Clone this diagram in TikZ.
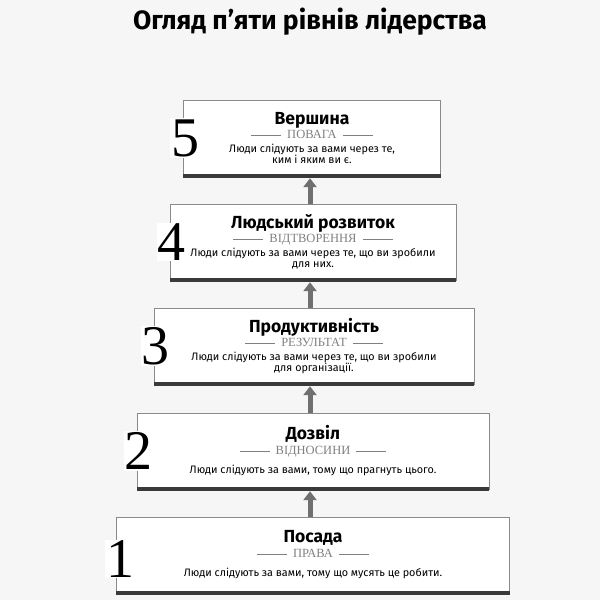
\documentclass[tikz,border=0pt]{standalone}
\usepackage{fontspec}
\setmainfont{Liberation Serif}
\setsansfont{Fira Sans}
\usetikzlibrary{arrows.meta, positioning}
\definecolor{bgpaper}{HTML}{F6F6F6}
\definecolor{edgegray}{HTML}{8A8A8A}
\definecolor{bargray}{HTML}{3A3A3A}
\definecolor{arrowgray}{HTML}{707070}
\newcommand{\subline}[1]{{\fontsize{12.5}{13}\selectfont\color{gray}\rule[3.5pt]{30pt}{0.5pt}\hspace{6pt}#1\hspace{6pt}\rule[3.5pt]{30pt}{0.5pt}}}
\newcommand{\headfont}{\sffamily\bfseries\fontsize{17.5}{18}\selectfont}
\newcommand{\bodyfont}{\sffamily\fontsize{10.8}{11}\selectfont}

\begin{document}
\begin{tikzpicture}[
    x=1pt, y=-1pt,
    level/.style={rectangle, draw=edgegray, fill=white, minimum height=76pt, align=center, inner sep=1pt},
    bar/.style={draw=bargray, line width=3.5pt},
    rank/.style={fill=white, font=\fontsize{56}{56}\selectfont, inner sep=1pt},
    uparrow/.style={draw=arrowgray, line width=5pt, -{Triangle[width=13pt,length=9pt]}}
]
\fill[bgpaper] (0,0) rectangle (600,600);
\useasboundingbox (0,0) rectangle (600,600);

\node[font=\sffamily\bfseries\fontsize{26.5}{28}\selectfont] (title) at (310,22) {Огляд п'яти рівнів лідерства};

\node[level, minimum width=257pt] (top) at (312,138) {{\headfont Вершина}\\[1pt]
  \subline{ПОВАГА}\\[2pt]
  {\bodyfont Люди слідують за вами через те,}\\[-1pt] {\bodyfont ким і яким ви є.}};
\node[level, minimum width=286pt] (growth) at (313,242) {{\headfont Людський розвиток}\\[1pt]
  \subline{ВІДТВОРЕННЯ}\\[2pt]
  {\bodyfont Люди слідують за вами через те, що ви зробили}\\[-1pt] {\bodyfont для них.}};
\node[level, minimum width=320pt] (result) at (314,346) {{\headfont Продуктивність}\\[1pt]
  \subline{РЕЗУЛЬТАТ}\\[2pt]
  {\bodyfont Люди слідують за вами через те, що ви зробили}\\[-1pt] {\bodyfont для організації.}};
\node[level, minimum width=352pt] (permit) at (313,451) {{\headfont Дозвіл}\\[3pt]
  \subline{ВІДНОСИНИ}\\[7pt]
  {\bodyfont Люди слідують за вами, тому що прагнуть цього.}};
\node[level, minimum width=393pt] (post) at (313,555) {{\headfont Посада}\\[3pt]
  \subline{ПРАВА}\\[7pt]
  {\bodyfont Люди слідують за вами, тому що мусять це робити.}};

% thick lower edges
\foreach \b in {top, growth, result, permit, post}
  \draw[bar] (\b.south west) -- (\b.south east);

% level numbers over the left edges
\node[rank] (n5) at ([xshift=2pt]top.west) {5};
\node[rank] (n4) at ([xshift=2pt]growth.west) {4};
\node[rank] (n3) at ([xshift=2pt]result.west) {3};
\node[rank] (n2) at ([xshift=2pt]permit.west) {2};
\node[rank] (n1) at ([xshift=4pt,yshift=-4pt]post.west) {1};

\draw[uparrow] ([xshift=-3pt]post.north) -- ([xshift=-3pt,yshift=-2pt]permit.south);
\draw[uparrow] ([xshift=-3pt]permit.north) -- ([xshift=-4pt,yshift=-2pt]result.south);
\draw[uparrow] ([xshift=-4pt]result.north) -- ([xshift=-3pt,yshift=-2pt]growth.south);
\draw[uparrow] ([xshift=-3pt]growth.north) -- ([xshift=-2pt,yshift=-2pt]top.south);
\end{tikzpicture}
\end{document}
